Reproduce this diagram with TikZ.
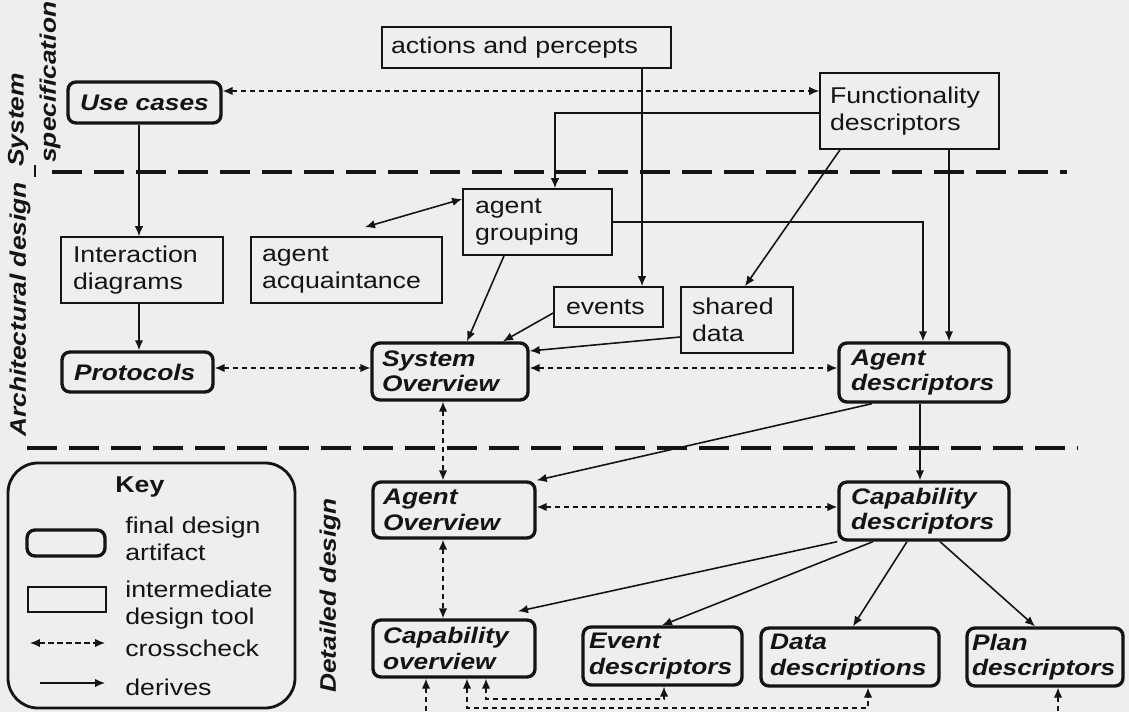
\documentclass[tikz,border=0pt]{standalone}
\usepackage{fontspec}
\setmainfont{Liberation Sans}[FakeStretch=1.17]
\usetikzlibrary{arrows.meta,calc}
\definecolor{bg}{HTML}{EEEEEE}
\definecolor{ink}{HTML}{141414}
\newcommand\dbox[8]{\node[#1, inner xsep={#8*0.02cm}, minimum width={(#5-#3)*0.02cm}, minimum height={(#6-#4)*0.02cm}, text width={(#5-#3-2*#8)*0.02cm}] (#2) at ({(#3+#5)/2},{(#4+#6)/2}) {#7};}
\tikzset{
  basefont/.style={font=\fontsize{13}{15.4}\selectfont, text=ink},
  finalbox/.style={basefont, draw=ink, line width=1.9pt, rounded corners=0.16cm, inner ysep=1pt, align=left, font=\fontsize{12.8}{14.4}\selectfont\bfseries\itshape},
  interbox/.style={basefont, draw=ink, line width=0.95pt, inner ysep=1pt, align=left},
  tip/.tip={Latex[length=0.2cm,width=0.17cm]},
  derivearrow/.style={draw=ink, line width=0.9pt, -tip},
  bothsolid/.style={draw=ink, line width=0.9pt, tip-tip},
  crossarrow/.style={draw=ink, line width=0.8pt, dash pattern=on 0.11cm off 0.07cm, tip-tip},
  crossup/.style={draw=ink, line width=0.8pt, dash pattern=on 0.11cm off 0.07cm, tip-},
  sepline/.style={draw=ink, line width=2.3pt, dash pattern=on 0.6cm off 0.24cm},
  phaselabel/.style={rotate=90, anchor=west, inner sep=0pt, text=ink, font=\fontsize{12.8}{15}\selectfont\bfseries\itshape},
  keytext/.style={basefont, anchor=west, align=left, inner sep=0pt},
}
\begin{document}
\begin{tikzpicture}[x=0.02cm, y=-0.02cm]
\fill[bg] (0,0) rectangle (1129,712);
\useasboundingbox (0,0) rectangle (1129,712);

% phase separators
\draw[sepline] (52,172) -- (1067,172);
\draw[sepline] (27,448) -- (1078,448);

% phase labels
\node[phaselabel] (lsys) at (18,167) {System};
\node[phaselabel] (lspec) at (50,163) {specification};
\draw[ink, line width=1.2pt] (35,165) -- (35,177);
\node[phaselabel] (larch) at (20,437) {Architectural design};
\node[phaselabel] (ldet) at (330,693) {Detailed design};

% boxes
\dbox{interbox}{ap}{382}{27}{671}{68}{actions and percepts}{9}
\dbox{interbox}{func}{820}{73}{999}{149}{Functionality\\descriptors}{10}
\dbox{finalbox}{use}{68}{82}{221}{123}{Use cases}{12}
\dbox{interbox}{ag}{463}{189}{612}{255}{agent\\grouping}{12}
\dbox{interbox}{id}{61}{237}{223}{303}{Interaction\\diagrams}{12}
\dbox{interbox}{acq}{251}{237}{442}{303}{agent\\acquaintance}{11}
\dbox{interbox}{events}{554}{287}{663}{327}{events}{12}
\dbox{interbox}{shared}{681}{287}{793}{353}{shared\\data}{11}
\dbox{finalbox}{prot}{62}{352}{213}{392}{Protocols}{12}
\dbox{finalbox}{sysov}{372}{343}{528}{400}{System\\Overview}{10}
\dbox{finalbox}{ad}{839}{343}{1009}{402}{Agent\\descriptors}{12}
\dbox{finalbox}{aov}{373}{482}{535}{538}{Agent\\Overview}{10}
\dbox{finalbox}{cd}{839}{482}{1009}{540}{Capability\\descriptors}{12}
\dbox{finalbox}{capov}{373}{620}{535}{677}{Capability\\overview}{10}
\dbox{finalbox}{evd}{583}{627}{742}{685}{Event\\descriptors}{6}
\dbox{finalbox}{dd}{761}{628}{939}{686}{Data\\descriptions}{9}
\dbox{finalbox}{pd}{967}{628}{1123}{686}{Plan\\descriptors}{5}

% derives
\draw[derivearrow] (ap.south -| 642,0) -- (events.north -| 642,0);
\draw[derivearrow] (func.west |- 0,113) -| (ag.north -| 555,0);
\draw[derivearrow] (func.south -| 840,0) -- (shared.north -| 745,0);
\draw[derivearrow] (func.south -| 949,0) -- (ad.north -| 949,0);
\draw[derivearrow] (use.south -| 139,0) -- (id.north -| 139,0);
\draw[derivearrow] (id.south -| 139,0) -- (prot.north -| 139,0);
\draw[bothsolid] (ag.west |- 0,199) -- ($(acq.north -| 365,0)+(0,-9)$);
\draw[derivearrow] (ag.south -| 504,0) -- (sysov.north -| 467,0);
\draw[derivearrow] (events.west |- 0,313) -- (sysov.north -| 503,0);
\draw[derivearrow] (shared.west |- 0,337) -- (sysov.east |- 0,351);
\draw[derivearrow] (ag.east) -| (ad.north -| 923,0);
\draw[derivearrow] (ad.south -| 872,0) -- (aov.north east);
\draw[derivearrow] (ad.south -| 920,0) -- (cd.north -| 920,0);
\draw[derivearrow] (cd.south west) -- ($(capov.north -| 518,0)+(0,-7)$);
\draw[derivearrow] (cd.south -| 873,0) -- (evd.north -| 662,0);
\draw[derivearrow] (cd.south -| 907,0) -- (dd.north -| 853,0);
\draw[derivearrow] (cd.south -| 940,0) -- (pd.north -| 1035,0);

% crosschecks
\draw[crossarrow] (use.east |- 0,91) -- (func.west |- 0,91);
\draw[crossarrow] (prot.east |- 0,368) -- (sysov.west |- 0,368);
\draw[crossarrow] (sysov.east |- 0,368) -- (ad.west |- 0,368);
\draw[crossarrow] (sysov.south -| 443,0) -- (aov.north -| 443,0);
\draw[crossarrow] (aov.east |- 0,507) -- (cd.west |- 0,507);
\draw[crossarrow] (aov.south -| 443,0) -- (capov.north -| 443,0);
\draw[crossarrow] (capov.south -| 486,0) -- (486,699) -- (664,699) -- (evd.south -| 664,0);
\draw[crossarrow] (capov.south -| 467,0) -- (467,708) -- (868,708) -- (dd.south -| 868,0);
\coordinate (cutA) at (426,712);
\coordinate (cutB) at (1058,712);
\draw[crossup] (capov.south -| 426,0) -- (cutA);
\draw[crossup] (pd.south -| 1058,0) -- (cutB);

% key
\node[draw=ink, line width=1.6pt, rounded corners=0.6cm, minimum width={287*0.02cm}, minimum height={245*0.02cm}] (key) at (151.5,585.5) {};
\node[keytext, font=\fontsize{13}{15.4}\selectfont\bfseries] (keyt) at (115,487) {Key};
\node[finalbox, minimum width={78*0.02cm}, minimum height={26*0.02cm}] (kfinal) at (66,543) {};
\node[keytext] (kfinalt) at (125,539) {final design\\artifact};
\node[interbox, minimum width={78*0.02cm}, minimum height={25*0.02cm}] (kinter) at (67,599.5) {};
\node[keytext] (kintert) at (125,605) {intermediate\\design tool};
\coordinate (kc1) at (30,643);
\coordinate (kc2) at (105,643);
\draw[crossarrow] (kc1) -- (kc2);
\node[keytext] (kct) at (125,648) {crosscheck};
\coordinate (kd1) at (40,683);
\coordinate (kd2) at (105,683);
\draw[derivearrow] (kd1) -- (kd2);
\node[keytext] (kdt) at (125,687) {derives};
\end{tikzpicture}
\end{document}
